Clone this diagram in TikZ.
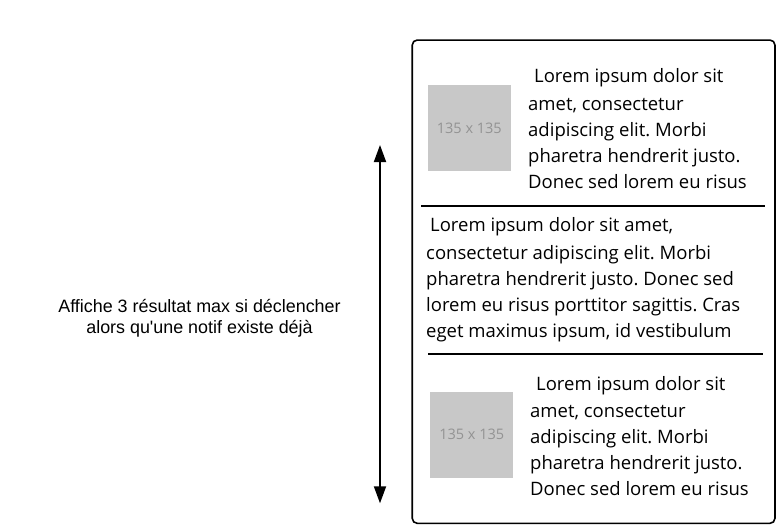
\documentclass[tikz,border=0pt]{standalone}
\usepackage{fontspec}
\setmainfont{Open Sans}
\newfontfamily\labelfont{Liberation Sans}
\usetikzlibrary{arrows.meta}
\definecolor{imgfill}{HTML}{C8C8C8}
\definecolor{imgtext}{HTML}{939393}
\frenchspacing
\begin{document}
\begin{tikzpicture}[x=1pt,y=-1pt,
  card/.style={draw=black, line width=1.6pt, rounded corners=5pt, minimum width=362.7pt, minimum height=483.3pt, inner sep=0pt},
  sep/.style={draw=black, line width=1.8pt},
  placeholder/.style={fill=imgfill, minimum width=83.3pt, minimum height=86pt, inner sep=0pt, text=imgtext, font=\fontsize{14.5}{17}\selectfont},
  body/.style={anchor=north west, inner sep=0pt, align=left, font=\fontsize{18.5}{25.8}\selectfont},
  sidelabel/.style={anchor=north, inner sep=0pt, align=center, font=\labelfont\fontsize{17.9}{21.6}\selectfont},
  span/.style={{Triangle[length=17pt,width=12pt]}-{Triangle[length=17pt,width=12pt]}, line width=1.8pt}
]
\useasboundingbox (0,0) rectangle (780,525);
\node[card] (card) at (593.6,281.7) {};
\coordinate (s1a) at (421,206);
\coordinate (s1b) at (765,206);
\coordinate (s2a) at (428.3,354.3);
\coordinate (s2b) at (763.3,354.3);
\draw[sep] (s1a) -- (s1b);
\draw[sep] (s2a) -- (s2b);
\node[placeholder] (img1) at (469.3,128) {135 x 135};
\node[placeholder] (img2) at (471.7,434.7) {135 x 135};
\node[body] (t1) at (528,68.6) {\hspace*{6pt}Lorem ipsum dolor sit\\[2pt]amet, consectetur\\adipiscing elit. Morbi\\pharetra hendrerit justo.\\Donec sed lorem eu risus};
\node[body] (t2) at (426,217.6) {\hspace*{4pt}Lorem ipsum dolor sit amet,\\[2pt]consectetur adipiscing elit. Morbi\\pharetra hendrerit justo. Donec sed\\lorem eu risus porttitor sagittis. Cras\\eget maximus ipsum, id vestibulum};
\node[body] (t3) at (530,375.9) {\hspace*{6pt}Lorem ipsum dolor sit\\[2pt]amet, consectetur\\adipiscing elit. Morbi\\pharetra hendrerit justo.\\Donec sed lorem eu risus};
\coordinate (atop) at (380,145);
\coordinate (abot) at (380,503.3);
\draw[span] (atop) -- (abot);
\node[sidelabel] (lbl) at (199.5,299) {Affiche 3 résultat max si déclencher\\alors qu'une notif existe déjà};
\end{tikzpicture}
\end{document}
